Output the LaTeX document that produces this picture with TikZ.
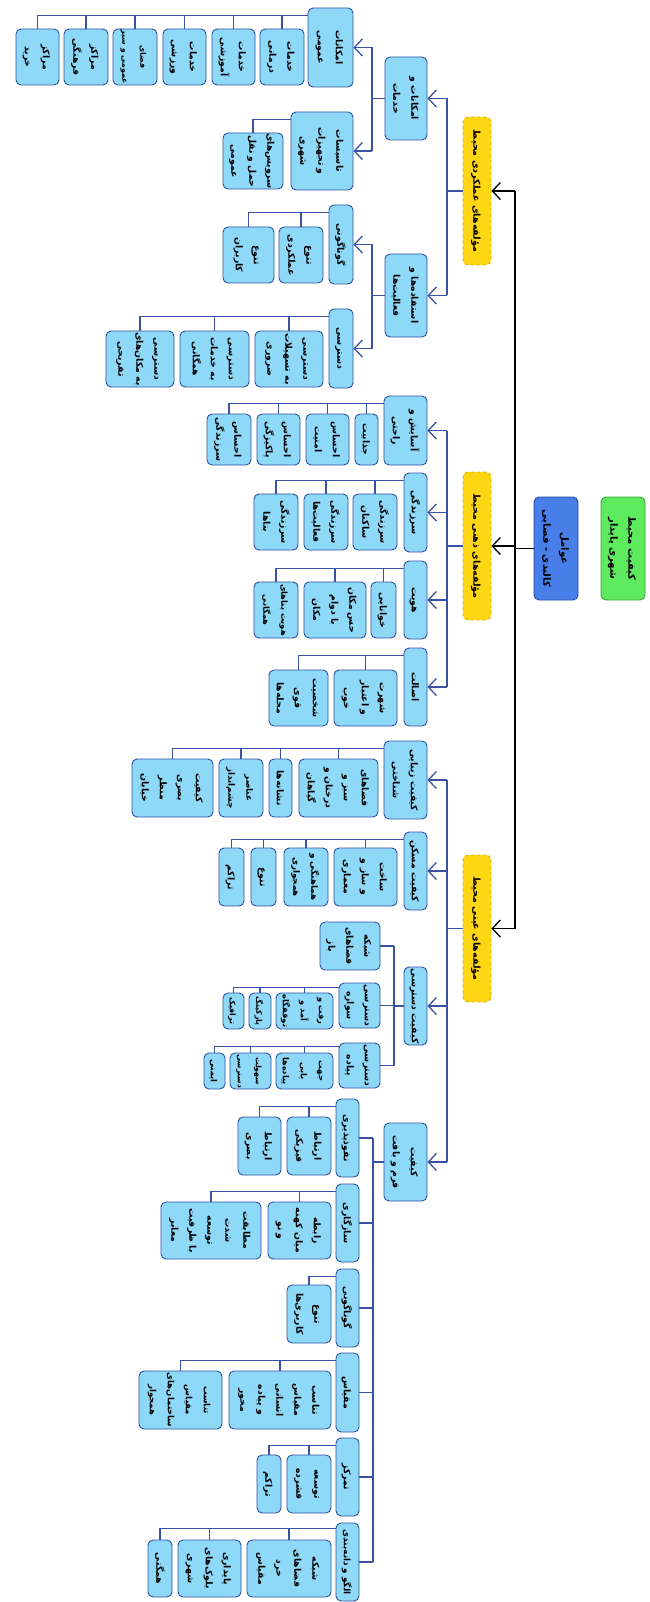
\documentclass[tikz,border=0pt]{standalone}
\usepackage{fontspec}
\usepackage{graphicx}
\newfontfamily\arabicfont[Script=Arabic]{DejaVu Sans}
\TeXXeTstate=1
\usetikzlibrary{arrows.meta}
\definecolor{lb}{RGB}{142,216,248}
\definecolor{bdr}{RGB}{47,80,160}
\definecolor{lnc}{RGB}{58,82,164}
\definecolor{yl}{RGB}{255,214,20}
\definecolor{ydk}{RGB}{214,170,0}
\definecolor{gr}{RGB}{94,234,94}
\definecolor{grd}{RGB}{60,160,60}
\definecolor{bl}{RGB}{72,126,232}
\definecolor{bld}{RGB}{40,70,160}
\newcommand\fa[1]{\beginR #1\endR}
\newcommand\vt[2][9.3]{\rotatebox{-90}{\arabicfont\bfseries\fontsize{#1}{18}\selectfont\begin{tabular}{@{}c@{}}#2\end{tabular}}}
\newcommand\bx[7]{\node[#2, minimum width={(#5-#3)*1pt}, minimum height={(#6-#4)*1pt}] (#1) at ({(#3+#5)/2},{-(#4+#6)/2}) {#7};}
\newcommand\bus[2]{\draw[ln] ([yshift=-8pt]#1.north west) -| (#2.north);}
\newcommand\tarr[2]{\draw[arr] (#2.east -| #1) -- (#2.east);}
\newcommand\tlin[2]{\draw[ln] (#2.east -| #1) -- (#2.east);}
\tikzset{
  boxbase/.style={draw=bdr, line width=0.9pt, rounded corners=5pt, inner sep=0pt, align=center},
  leaf/.style={boxbase, fill=lb},
  mid/.style={boxbase, fill=lb},
  yel/.style={draw=ydk, dashed, line width=0.9pt, fill=yl, rounded corners=5pt, inner sep=0pt},
  rootst/.style={draw=grd, line width=0.9pt, fill=gr, rounded corners=5pt, inner sep=0pt},
  bluest/.style={draw=bld, line width=0.9pt, fill=bl, rounded corners=5pt, inner sep=0pt},
  ln/.style={draw=lnc, line width=1.3pt},
  arr/.style={ln, -{Straight Barb[length=8pt,width=17pt]}},
  blk/.style={draw=black, line width=1.3pt},
  blkarr/.style={blk, -{Straight Barb[length=8pt,width=17pt]}}
}
\begin{document}
\begin{tikzpicture}[x=1pt,y=1pt]
\useasboundingbox (0,0) rectangle (649,-1602);
% ---------- top levels
\bx{root}{rootst}{601}{497}{645}{600}{\vt[10]{\fa{کیفیت محیط}\\\fa{شهری پایدار}}}
\bx{phys}{bluest}{534}{497}{578}{600}{\vt[10]{\fa{عوامل}\\\fa{کالبدی - فضایی}}}
\bx{y1}{yel}{463}{117}{491}{265}{\vt[9.5]{\fa{مؤلفه‌های عملکردی محیط}}}
\bx{y2}{yel}{463}{472}{491}{620}{\vt[9.5]{\fa{مؤلفه‌های ذهنی محیط}}}
\bx{y3}{yel}{463}{855}{491}{1002}{\vt[9.5]{\fa{مؤلفه‌های عینی محیط}}}
\coordinate (t0) at (515,0);
\draw[blk] (phys.west) -- (phys.west -| t0);
\draw[blk] (y1.east -| t0) -- (y3.east -| t0);
\draw[blkarr] (y1.east -| t0) -- (y1.east);
\draw[blkarr] (y2.east -| t0) -- (y2.east);
\draw[blkarr] (y3.east -| t0) -- (y3.east);
\coordinate (t1) at (447,0);
% ---------- branch 1
\bx{a1}{mid}{385}{57}{427}{140}{\vt{\fa{امکانات و}\\\fa{خدمات}}}
\bx{a2}{mid}{385}{254}{427}{337}{\vt{\fa{استفاده‌ها و}\\\fa{فعالیت‌ها}}}
\draw[ln] (y1.west) -- (y1.west -| t1);
\draw[ln] (a1.east -| t1) -- (a2.east -| t1);
\tarr{t1}{a1}\tarr{t1}{a2}
\coordinate (t2) at (372,0);
\bx{a11}{mid}{308}{8}{353}{87}{\vt{\fa{امکانات}\\\fa{عمومی}}}
\bx{a12}{mid}{291}{112}{353}{190}{\vt{\fa{تاسیسات}\\\fa{و تجهیزات}\\\fa{شهری}}}
\draw[ln] (a1.west) -- (a1.west -| t2);
\draw[ln] (a11.east -| t2) -- (a12.east -| t2);
\tarr{t2}{a11}\tarr{t2}{a12}
\bx{l111}{leaf}{260}{29}{304}{85}{\vt{\fa{خدمات}\\\fa{درمانی}}}
\bx{l112}{leaf}{212}{29}{255}{85}{\vt{\fa{خدمات}\\\fa{آموزشی}}}
\bx{l113}{leaf}{163}{29}{206}{85}{\vt{\fa{خدمات}\\\fa{ورزشی}}}
\bx{l114}{leaf}{113}{29}{157}{85}{\vt[7.8]{\fa{فضای}\\\fa{عمومی و سبز}}}
\bx{l115}{leaf}{64}{29}{108}{85}{\vt{\fa{مراکز}\\\fa{فرهنگی}}}
\bx{l116}{leaf}{16}{29}{59}{85}{\vt{\fa{مراکز}\\\fa{خرید}}}
\bus{a11}{l111}\bus{a11}{l112}\bus{a11}{l113}\bus{a11}{l114}\bus{a11}{l115}\bus{a11}{l116}
\bx{l121}{leaf}{223}{133}{283}{189}{\vt{\fa{سرویس‌های}\\\fa{حمل و نقل}\\\fa{عمومی}}}
\bus{a12}{l121}
\bx{a21}{mid}{329}{205}{353}{284}{\vt{\fa{گوناگونی}}}
\bx{a22}{mid}{329}{309}{353}{388}{\vt{\fa{دسترسی}}}
\draw[ln] (a2.west) -- (a2.west -| t2);
\draw[ln] (a21.east -| t2) -- (a22.east -| t2);
\tarr{t2}{a21}\tarr{t2}{a22}
\bx{l211}{leaf}{279}{227}{323}{283}{\vt{\fa{تنوع}\\\fa{عملکردی}}}
\bx{l212}{leaf}{223}{227}{274}{283}{\vt{\fa{تنوع}\\\fa{کاربران}}}
\bus{a21}{l211}\bus{a21}{l212}
\bx{l221}{leaf}{255}{331}{323}{387}{\vt{\fa{دسترسی}\\\fa{به تسهیلات}\\\fa{ضروری}}}
\bx{l222}{leaf}{180}{331}{249}{387}{\vt{\fa{دسترسی}\\\fa{به خدمات}\\\fa{همگانی}}}
\bx{l223}{leaf}{106}{331}{174}{387}{\vt{\fa{دسترسی}\\\fa{به مکان‌های}\\\fa{تفریحی}}}
\bus{a22}{l221}\bus{a22}{l222}\bus{a22}{l223}
% ---------- branch 2
\bx{b1}{mid}{384}{396}{427}{465}{\vt{\fa{آسایش و}\\\fa{راحتی}}}
\bx{b2}{mid}{404}{473}{427}{552}{\vt{\fa{سرزندگی}}}
\bx{b3}{mid}{404}{561}{427}{639}{\vt{\fa{هویت}}}
\bx{b4}{mid}{404}{648}{427}{726}{\vt{\fa{اصالت}}}
\draw[ln] (y2.west) -- (y2.west -| t1);
\draw[ln] (b1.east -| t1) -- (b4.east -| t1);
\tarr{t1}{b1}\tarr{t1}{b2}\tarr{t1}{b3}\tarr{t1}{b4}
\bx{l311}{leaf}{355}{414}{378}{465}{\vt{\fa{جذابیت}}}
\bx{l312}{leaf}{306}{414}{349}{465}{\vt{\fa{احساس}\\\fa{امنیت}}}
\bx{l313}{leaf}{257}{414}{300}{465}{\vt{\fa{احساس}\\\fa{پاکیزگی}}}
\bx{l314}{leaf}{207}{414}{251}{465}{\vt{\fa{احساس}\\\fa{سرزندگی}}}
\bus{b1}{l311}\bus{b1}{l312}\bus{b1}{l313}\bus{b1}{l314}
\bx{l321}{leaf}{353}{494}{397}{550}{\vt{\fa{سرزندگی}\\\fa{ساکنان}}}
\bx{l322}{leaf}{304}{494}{348}{550}{\vt{\fa{سرزندگی}\\\fa{فعالیت‌ها}}}
\bx{l323}{leaf}{254}{494}{298}{550}{\vt{\fa{سرزندگی}\\\fa{بناها}}}
\bus{b2}{l321}\bus{b2}{l322}\bus{b2}{l323}
\bx{l331}{leaf}{371}{582}{396}{638}{\vt{\fa{خوانایی}}}
\bx{l332}{leaf}{304}{582}{366}{638}{\vt{\fa{حس مکان}\\\fa{با دوام}\\\fa{مکان}}}
\bx{l333}{leaf}{254}{582}{298}{638}{\vt[8.3]{\fa{هویت بناهای}\\\fa{همگانی}}}
\bus{b3}{l331}\bus{b3}{l332}\bus{b3}{l333}
\bx{l341}{leaf}{334}{670}{397}{726}{\vt{\fa{شهرت}\\\fa{و اعتبار}\\\fa{خوب}}}
\bx{l342}{leaf}{269}{670}{328}{726}{\vt{\fa{شخصیت}\\\fa{قوی}\\\fa{محله‌ها}}}
\bus{b4}{l341}\bus{b4}{l342}
% ---------- branch 3
\bx{c1}{mid}{384}{741}{427}{819}{\vt{\fa{کیفیت زیبایی}\\\fa{شناختی}}}
\bx{c2}{mid}{404}{832}{427}{910}{\vt{\fa{کیفیت مسکن}}}
\bx{c3}{mid}{404}{967}{427}{1045}{\vt{\fa{کیفیت دسترسی}}}
\bx{c4}{mid}{384}{1123}{427}{1201}{\vt{\fa{کیفیت}\\\fa{فرم و بافت}}}
\draw[ln] (y3.west) -- (y3.west -| t1);
\draw[ln] (c1.east -| t1) -- (c4.east -| t1);
\tarr{t1}{c1}\tarr{t1}{c2}\tarr{t1}{c3}\tarr{t1}{c4}
\bx{l411}{leaf}{299}{759}{378}{817}{\vt{\fa{فضاهای}\\\fa{سبز و}\\\fa{درختان و}\\\fa{گیاهان}}}
\bx{l412}{leaf}{269}{759}{292}{817}{\vt{\fa{نشانه‌ها}}}
\bx{l413}{leaf}{219}{759}{263}{817}{\vt[8.8]{\fa{عناصر}\\\fa{چشم‌انداز}}}
\bx{l414}{leaf}{132}{759}{213}{817}{\vt{\fa{کیفیت}\\\fa{بصری}\\\fa{منظر}\\\fa{خیابان}}}
\bus{c1}{l411}\bus{c1}{l412}\bus{c1}{l413}\bus{c1}{l414}
\bx{l421}{leaf}{334}{848}{397}{906}{\vt{\fa{ساخت}\\\fa{و ساز و}\\\fa{معماری}}}
\bx{l422}{leaf}{284}{848}{328}{906}{\vt[8.8]{\fa{هماهنگی و}\\\fa{همجواری}}}
\bx{l423}{leaf}{251}{848}{276}{906}{\vt{\fa{تنوع}}}
\bx{l424}{leaf}{219}{848}{244}{906}{\vt{\fa{تراکم}}}
\bus{c2}{l421}\bus{c2}{l422}\bus{c2}{l423}\bus{c2}{l424}
\coordinate (t5) at (394,0);
\bx{c31}{mid}{320}{922}{380}{970}{\vt{\fa{شبکه}\\\fa{فضاهای}\\\fa{باز}}}
\bx{c32}{mid}{339}{983}{380}{1028}{\vt{\fa{دسترسی}\\\fa{سواره}}}
\bx{c33}{mid}{339}{1043}{380}{1088}{\vt{\fa{دسترسی}\\\fa{پیاده}}}
\draw[ln] (c3.west) -- (c3.west -| t5);
\draw[ln] (c31.east -| t5) -- (c33.east -| t5);
\tlin{t5}{c31}\tlin{t5}{c32}\tlin{t5}{c33}
\bx{l521}{leaf}{276}{993}{333}{1029}{\vt[8.3]{\fa{رفت و}\\\fa{آمد و}\\\fa{توقفگاه}}}
\bx{l522}{leaf}{249}{993}{271}{1029}{\vt[7.8]{\fa{پارکینگ}}}
\bx{l523}{leaf}{223}{993}{244}{1029}{\vt[7.8]{\fa{ترافیک}}}
\draw[ln] ([yshift=-5pt]c32.north west) -| (l521.north);
\draw[ln] ([yshift=-5pt]c32.north west) -| (l522.north);
\draw[ln] ([yshift=-5pt]c32.north west) -| (l523.north);
\bx{l531}{leaf}{276}{1053}{333}{1089}{\vt[8.3]{\fa{جهت}\\\fa{یابی}\\\fa{پیاده‌ها}}}
\bx{l532}{leaf}{230}{1053}{271}{1089}{\vt[7.5]{\fa{سهولت}\\\fa{دسترسی}}}
\bx{l533}{leaf}{204}{1053}{225}{1089}{\vt[8.3]{\fa{ایمنی}}}
\draw[ln] ([yshift=-4pt]c33.north west) -| (l531.north);
\draw[ln] ([yshift=-4pt]c33.north west) -| (l532.north);
\draw[ln] ([yshift=-4pt]c33.north west) -| (l533.north);
\coordinate (t6) at (373,0);
\bx{c41}{mid}{336}{1099}{359}{1177}{\vt{\fa{نفوذپذیری}}}
\bx{c42}{mid}{336}{1184}{359}{1262}{\vt{\fa{سازگاری}}}
\bx{c43}{mid}{336}{1269}{359}{1347}{\vt{\fa{گوناگونی}}}
\bx{c44}{mid}{336}{1353}{359}{1432}{\vt{\fa{مقیاس}}}
\bx{c45}{mid}{336}{1438}{359}{1516}{\vt{\fa{تمرکز}}}
\bx{c46}{mid}{336}{1523}{359}{1601}{\vt[8.8]{\fa{الگو و دانه‌بندی}}}
\draw[ln] (c4.west) -- (c4.west -| t6);
\draw[ln] (c41.east -| t6) -- (c46.east -| t6);
\tlin{t6}{c41}\tlin{t6}{c42}\tlin{t6}{c43}\tlin{t6}{c44}\tlin{t6}{c45}\tlin{t6}{c46}
\bx{l611}{leaf}{287}{1117}{331}{1175}{\vt{\fa{ارتباط}\\\fa{فیزیکی}}}
\bx{l612}{leaf}{238}{1117}{281}{1175}{\vt{\fa{ارتباط}\\\fa{بصری}}}
\bus{c41}{l611}\bus{c41}{l612}
\bx{l621}{leaf}{268}{1202}{331}{1259}{\vt{\fa{رابطه}\\\fa{میان کهنه}\\\fa{و نو}}}
\bx{l622}{leaf}{161}{1202}{261}{1259}{\vt{\fa{مطابقت}\\\fa{شدت}\\\fa{توسعه}\\\fa{با ظرفیت}\\\fa{معابر}}}
\bus{c42}{l621}\bus{c42}{l622}
\bx{l631}{leaf}{287}{1285}{331}{1343}{\vt{\fa{تنوع}\\\fa{کاربری‌ها}}}
\bus{c43}{l631}
\bx{l641}{leaf}{229}{1371}{331}{1429}{\vt{\fa{تناسب}\\\fa{مقیاس}\\\fa{انسانی}\\\fa{و پیاده}\\\fa{محور}}}
\bx{l642}{leaf}{139}{1371}{222}{1429}{\vt[8.6]{\fa{تناسب}\\\fa{مقیاس}\\\fa{ساختمان‌های}\\\fa{همجوار}}}
\bus{c44}{l641}\bus{c44}{l642}
\bx{l651}{leaf}{287}{1455}{331}{1513}{\vt{\fa{توسعه}\\\fa{فشرده}}}
\bx{l652}{leaf}{257}{1455}{281}{1513}{\vt{\fa{تراکم}}}
\bus{c45}{l651}\bus{c45}{l652}
\bx{l661}{leaf}{247}{1540}{331}{1597}{\vt{\fa{شبکه}\\\fa{فضاهای}\\\fa{خرد}\\\fa{مقیاس}}}
\bx{l662}{leaf}{178}{1540}{241}{1597}{\vt{\fa{پایداری}\\\fa{بلوک‌های}\\\fa{شهری}}}
\bx{l663}{leaf}{148}{1540}{172}{1597}{\vt{\fa{همگنی}}}
\draw[ln] ([yshift=-6pt]c46.north west) -| (l661.north);
\draw[ln] ([yshift=-6pt]c46.north west) -| (l662.north);
\draw[ln] ([yshift=-6pt]c46.north west) -| (l663.north);
\end{tikzpicture}
\end{document}
